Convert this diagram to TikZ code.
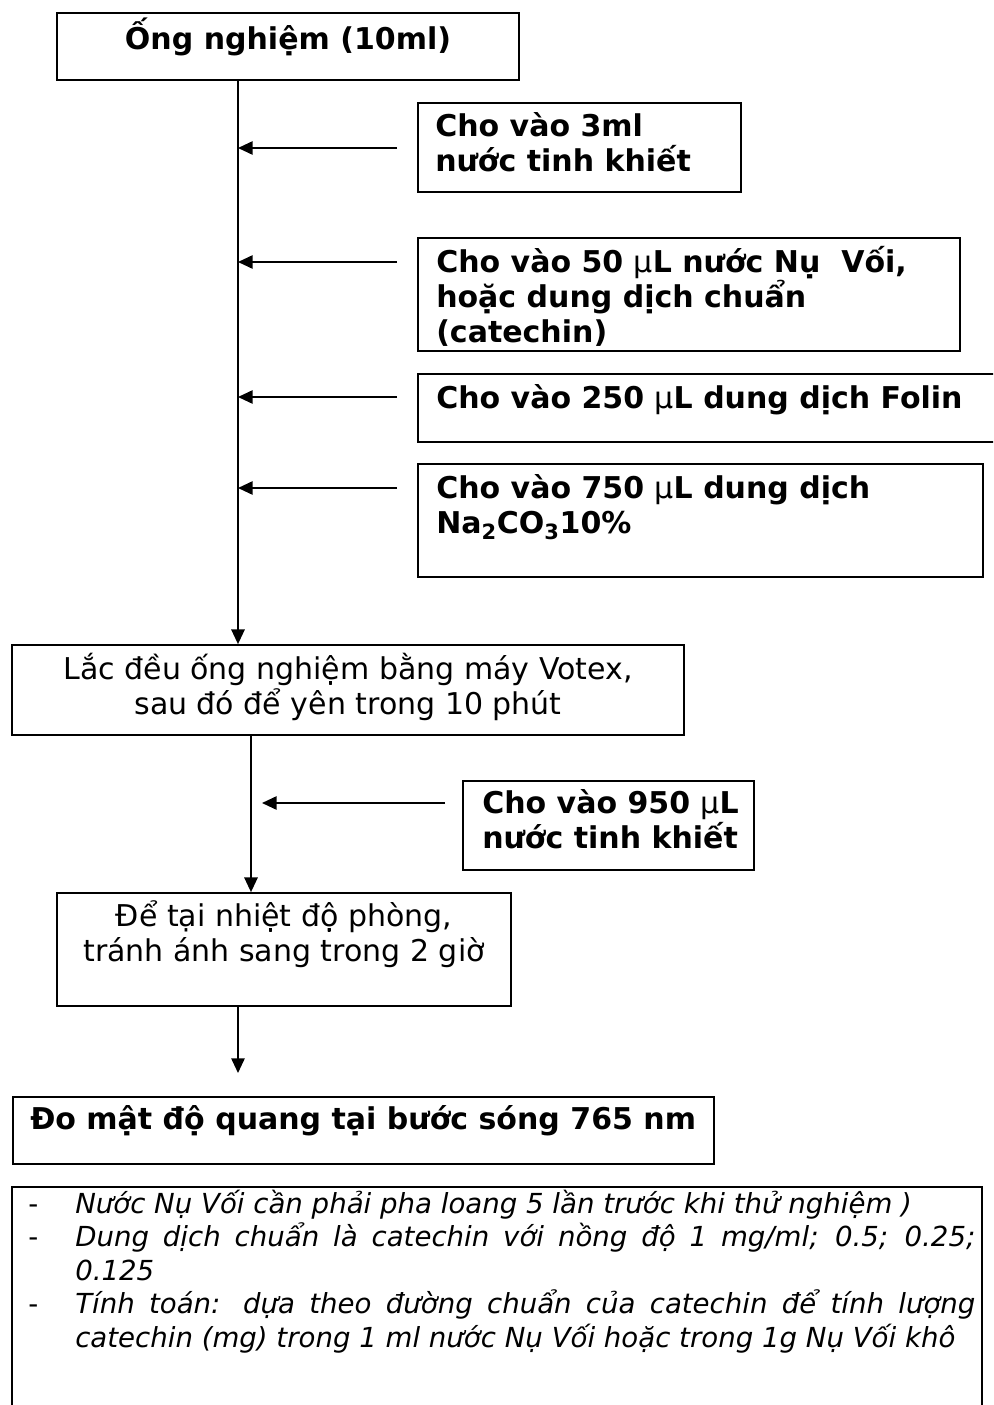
\documentclass[tikz,border=0pt]{standalone}
\usepackage{fontspec}
\setmainfont{DejaVu Sans}[BoldFont={DejaVu Sans Bold},ItalicFont={DejaVu Sans Oblique}]
\usetikzlibrary{arrows.meta,fit}
\newcommand\myuL{{\mdseries µ}L}
\begin{document}
\begin{tikzpicture}[x=0.75pt,y=-0.75pt,
  box/.style={draw, line width=1.3pt, inner sep=0pt, fit={#1}},
  btxt/.style={inner sep=0pt, font=\bfseries\fontsize{22.5pt}{26.25pt}\selectfont, align=left, anchor=base west},
  ctxt/.style={inner sep=0pt, font=\fontsize{22.5pt}{26.25pt}\selectfont, align=center, anchor=base},
  ntxt/.style={inner sep=0pt, font=\itshape\fontsize{20.7pt}{25.125pt}\selectfont, align=left, anchor=base west},
  dtxt/.style={inner sep=0pt, font=\fontsize{20.7pt}{25.125pt}\selectfont, anchor=base west},
  arr/.style={line width=1.3pt, -{Triangle[length=11pt,width=10pt]}}]
\useasboundingbox (0,0) rectangle (993,1405);
\fill[white] (0,0) rectangle (993,1405);
\clip (0,0) rectangle (993,1405);

% boxes
\node[box={(57,13) (519,80)}] (b1) {};
\node[box={(418,103) (741,192)}] (b2) {};
\node[box={(418,238) (960,351)}] (b3) {};
\node[box={(418,374) (1000,442)}] (b4) {};
\node[box={(418,464) (983,577)}] (b5) {};
\node[box={(12,645) (684,735)}] (b6) {};
\node[box={(463,781) (754,870)}] (b7) {};
\node[box={(57,893) (511,1006)}] (b8) {};
\node[box={(13,1097) (714,1164)}] (b9) {};
\node[box={(12,1187) (982,1430)}] (b10) {};

% texts (multi-line nodes are placed at the baseline of their last line)
\node[btxt, anchor=base] (t1) at (288,50) {Ống nghiệm (10ml)};
\node[btxt] (t2) at (435,172) {Cho vào 3ml\\nước tinh khiết};
\node[btxt] (t3) at (436,342) {Cho vào 50 \myuL\ nước Nụ~ Vối,\\hoặc dung dịch chuẩn\\(catechin)};
\node[btxt] (t4) at (436,408) {Cho vào 250 \myuL\ dung dịch Folin};
\node[btxt] (t5) at (436,533) {Cho vào 750 \myuL\ dung dịch\\Na\textsubscript{2}CO\textsubscript{3}10\%};
\node[ctxt] (t6) at (348,714) {Lắc đều ống nghiệm bằng máy Votex,\\sau đó để yên trong 10 phút};
\node[btxt] (t7) at (482,848) {Cho vào 950 \myuL\\nước tinh khiết};
\node[ctxt] (t8) at (284,961) {Để tại nhiệt độ phòng,\\tránh ánh sang trong 2 giờ};
\node[btxt] (t9) at (30,1129) {Đo mật độ quang tại bước sóng 765 nm};

\node[ntxt] (notes) at (75,1347) {Nước Nụ Vối cần phải pha loang 5 lần trước khi thử nghiệm )\\
\makebox[675pt][s]{Dung dịch chuẩn là catechin với nồng độ 1 mg/ml; 0.5; 0.25;}\\
0.125\\
\makebox[675pt][s]{Tính toán: dựa theo đường chuẩn của catechin để tính lượng}\\
catechin (mg) trong 1 ml nước Nụ Vối hoặc trong 1g Nụ Vối khô};
\node[dtxt] (d1) at (28,1213) {-};
\node[dtxt] (d2) at (28,1246.5) {-};
\node[dtxt] (d3) at (28,1313.5) {-};

% connector coordinates
\coordinate (m1) at (238,80);
\coordinate (m2) at (251,735);
\coordinate (s1) at (397,148);
\coordinate (s2) at (397,262);
\coordinate (s3) at (397,397);
\coordinate (s4) at (397,488);
\coordinate (s5) at (445,803);
\coordinate (s5e) at (262,803);
\coordinate (e9) at (238,1073);

% connectors
\draw[arr] (b1.south -| m1) -- (b6.north -| m1);
\draw[arr] (s1) -- (s1 -| m1);
\draw[arr] (s2) -- (s2 -| m1);
\draw[arr] (s3) -- (s3 -| m1);
\draw[arr] (s4) -- (s4 -| m1);
\draw[arr] (b6.south -| m2) -- (b8.north -| m2);
\draw[arr] (s5) -- (s5e);
\draw[arr] (b8.south -| e9) -- (e9);
\end{tikzpicture}
\end{document}
